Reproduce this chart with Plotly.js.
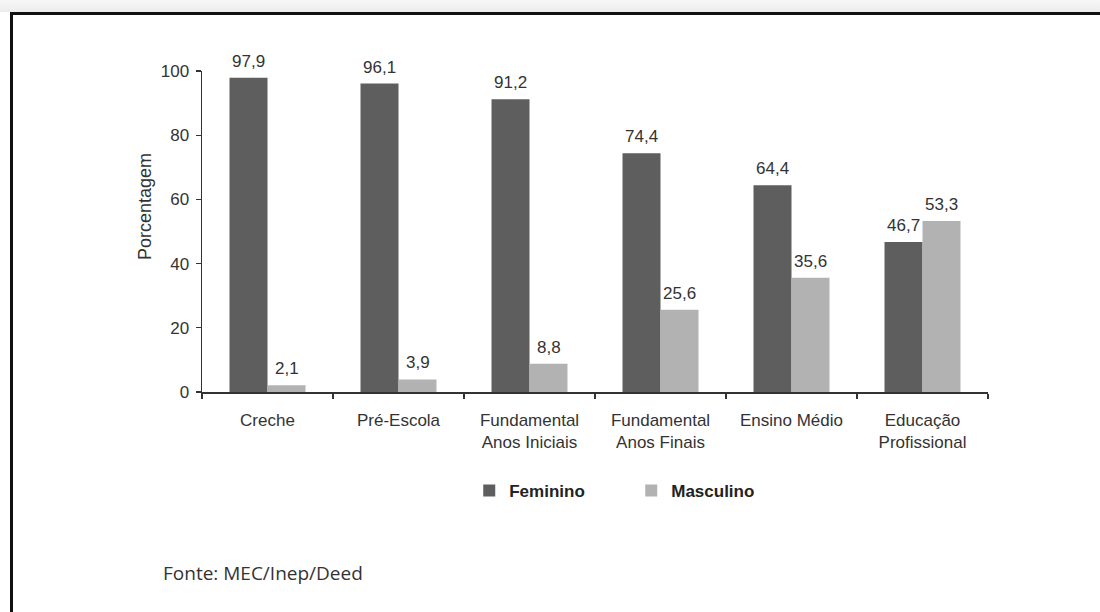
<!DOCTYPE html>
<html>
<head>
<meta charset="utf-8">
<script src="https://cdn.plot.ly/plotly-3.0.1.min.js"></script>
<style>
  html, body { margin: 0; padding: 0; background: #ffffff; }
  #topstrip { position: absolute; left: 0; top: 0; width: 1100px; height: 12px; background: linear-gradient(#f7f7f7, #ececec); }
  #chart { position: absolute; left: 0; top: 0; width: 1100px; height: 612px; }
  #frame { position: absolute; left: 10px; top: 12px; width: 1100px; height: 620px;
           border-left: 3px solid #111; border-top: 3px solid #111; pointer-events: none; }
</style>
</head>
<body>
<div id="chart"></div>
<div id="topstrip"></div>
<div id="frame"></div>
<script>
const categories = [
  "Creche",
  "Pré-Escola",
  "Fundamental<br>Anos Iniciais",
  "Fundamental<br>Anos Finais",
  "Ensino Médio",
  "Educação<br>Profissional"
];
const feminino = [97.9, 96.1, 91.2, 74.4, 64.4, 46.7];
const masculino = [2.1, 3.9, 8.8, 25.6, 35.6, 53.3];
const yTicks = [0, 20, 40, 60, 80, 100];
const yTitle = "Porcentagem";
const sourceText = "Fonte: MEC/Inep/Deed";

const ARIAL = "Liberation Sans, Arial, sans-serif";
const labelFont = { family: ARIAL, size: 17, color: "#333333" };

function fmt(v) { return v.toFixed(1).replace(".", ","); }

const traces = [
  {
    type: "bar", name: "Feminino", x: categories, y: feminino,
    marker: { color: "#5e5e5e" }, hoverinfo: "skip"
  },
  {
    type: "bar", name: "Masculino", x: categories, y: masculino,
    marker: { color: "#b2b2b2" }, hoverinfo: "skip"
  }
];

// value labels above the bars, positioned through the axes
const valueAnnotations = [];
const series = [{ vals: feminino, shift: -19 }, { vals: masculino, shift: 19 }];
series.forEach(s => {
  s.vals.forEach((v, i) => {
    valueAnnotations.push({
      xref: "x", yref: "y", x: categories[i], y: v, xshift: s.shift, yshift: 5,
      xanchor: "center", yanchor: "bottom", showarrow: false,
      text: fmt(v), font: labelFont
    });
  });
});

const layout = {
  width: 1100, height: 612,
  margin: { l: 202, r: 112, t: 71, b: 220 },
  paper_bgcolor: "#ffffff", plot_bgcolor: "#ffffff",
  separators: ",.",
  barmode: "group", bargap: 0.42, bargroupgap: 0,
  font: labelFont,
  showlegend: true,
  legend: {
    orientation: "h", x: 0.34, xanchor: "left", y: -0.308, yanchor: "middle",
    font: { family: ARIAL, size: 17, color: "#222222", weight: "bold" },
    entrywidth: 117, entrywidthmode: "pixels",
    bgcolor: "rgba(0,0,0,0)", traceorder: "normal"
  },
  xaxis: {
    type: "category", showline: true, linecolor: "#333333", linewidth: 1.5,
    ticks: "outside", tickson: "boundaries", ticklen: 5, tickcolor: "#333333", tickwidth: 1.2,
    showgrid: false, zeroline: false, tickfont: labelFont, automargin: false,
    ticklabelstandoff: 12
  },
  yaxis: {
    range: [0, 100], tickvals: yTicks, showline: true, linecolor: "#333333", linewidth: 1.5,
    ticks: "outside", ticklen: 5, tickcolor: "#333333", tickwidth: 1.2,
    showgrid: false, zeroline: false, tickfont: labelFont, automargin: false,
    ticklabelstandoff: 3
  },
  annotations: valueAnnotations.concat([
    {
      xref: "paper", yref: "paper", x: -0.0725, y: 0.576, xanchor: "center", yanchor: "middle",
      text: yTitle, textangle: -90, showarrow: false,
      font: { family: ARIAL, size: 18, color: "#333333" }
    },
    {
      xref: "paper", yref: "paper", x: -0.052, y: -0.564, xanchor: "left", yanchor: "middle",
      text: sourceText, showarrow: false,
      font: { family: "Open Sans, Noto Sans, sans-serif", size: 19, color: "#333333" }
    }
  ])
};

Plotly.newPlot("chart", traces, layout, { displayModeBar: false, staticPlot: true });
</script>
</body>
</html>
